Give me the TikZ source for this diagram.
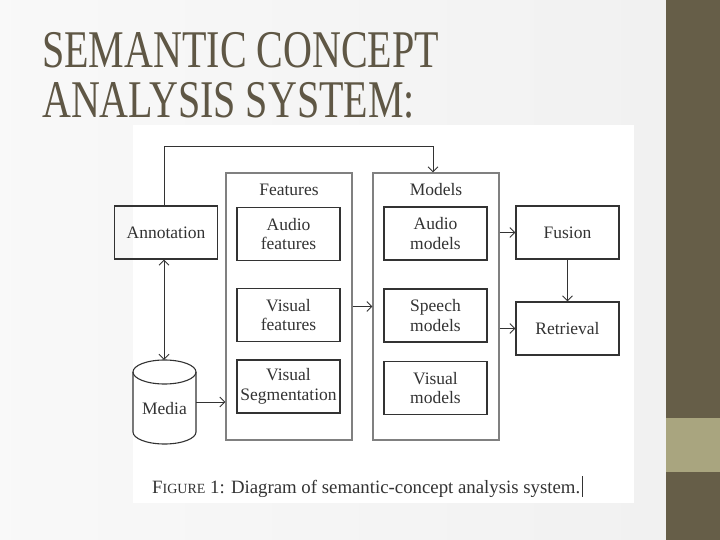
\documentclass[tikz,border=0pt]{standalone}
\usepackage{fontspec}
\setmainfont{Liberation Serif}
\usetikzlibrary{arrows.meta}
\definecolor{bandDark}{HTML}{665E48}
\definecolor{bandLight}{HTML}{A9A57F}
\definecolor{titleCol}{HTML}{5F5745}
\definecolor{ink}{HTML}{333333}
\definecolor{frame}{HTML}{808080}
\begin{document}
\begin{tikzpicture}[x=1pt,y=-1pt,
  every node/.style={font=\fontsize{17.5}{19.5}\selectfont, text=ink, align=center, inner sep=0pt},
  inbox/.style={draw=ink, line width=1.1pt, minimum width=103pt, minimum height=53pt},
  container/.style={draw=frame, line width=1.1pt, minimum width=126pt, minimum height=267pt},
  conn/.style={draw=ink, line width=0.9pt, -{Straight Barb[length=5pt,width=10pt]}},
  titletext/.style={font=\fontsize{53}{53}\selectfont, text=titleCol, anchor=base west}
]
\useasboundingbox (0,0) rectangle (720,540);
\fill[left color=white!95!gray, right color=white!89!gray] (0,0) rectangle (666,540);
\fill[bandDark] (666,0) rectangle (720,540);
\fill[bandLight] (666,418) rectangle (720,472);
\fill[white] (133,125) rectangle (634,503);

\node[titletext] (t1) at (42,68) {\scalebox{0.755}[1]{SEMANTIC CONCEPT}};
\node[titletext] (t2) at (42,118) {\scalebox{0.755}[1]{ANALYSIS SYSTEM:}};

\node[container] (feat) at (289,306.5) {};
\node[container] (mod) at (436,306.5) {};
\node (featl) at (289,190) {Features};
\node (modl) at (436,190) {Models};

\node[inbox] (ann) at (166,232.5) {Annotation};
\node[inbox] (af) at (288.5,234) {Audio\\features};
\node[inbox] (vf) at (288.5,315) {Visual\\features};
\node[inbox] (vs) at (288.5,386.5) {Visual\\Segmentation};
\node[inbox] (am) at (435.5,233.5) {Audio\\models};
\node[inbox] (sm) at (435.5,315.5) {Speech\\models};
\node[inbox] (vm) at (435.5,388) {Visual\\models};
\node[inbox] (fus) at (567.5,232.5) {Fusion};
\node[inbox] (ret) at (567.5,328.5) {Retrieval};

\node[minimum width=63pt, minimum height=84pt] (media) at (164.5,402) {};
\draw[ink, line width=1.1pt] (164.5,372) ellipse[x radius=31.5, y radius=12];
\draw[ink, line width=1.1pt] (133,372) -- (133,432)
  arc[start angle=180, end angle=0, x radius=31.5, y radius=12] -- (196,372);
\node at (164.5,409) {Media};

\coordinate (topl) at (164,146);
\coordinate (topr) at (433,146);
\draw[conn] (ann.north -| topl) -- (topl) -- (topr) -- (topr |- mod.north);
\draw[conn, {Straight Barb[length=5pt,width=10pt]}-{Straight Barb[length=5pt,width=10pt]}] (ann.south -| topl) -- (media.north -| topl);
\draw[conn] (media.east) -- (media.east -| feat.west);
\draw[conn] (feat.east) -- (mod.west);
\draw[conn] (mod.east |- fus.west) -- (fus.west);
\draw[conn] (mod.east |- ret.west) -- (ret.west);
\draw[conn] (fus.south) -- (ret.north);

\node[anchor=base west, font=\fontsize{18.8}{18.8}\selectfont] (cap) at (152,493) {F{\fontsize{14}{14}\selectfont IGURE} 1: Diagram of semantic-concept analysis system.};
\draw[ink, line width=0.8pt] ([xshift=2pt]cap.east |- 0,476) -- ([xshift=2pt]cap.east |- 0,497);
\end{tikzpicture}
\end{document}
